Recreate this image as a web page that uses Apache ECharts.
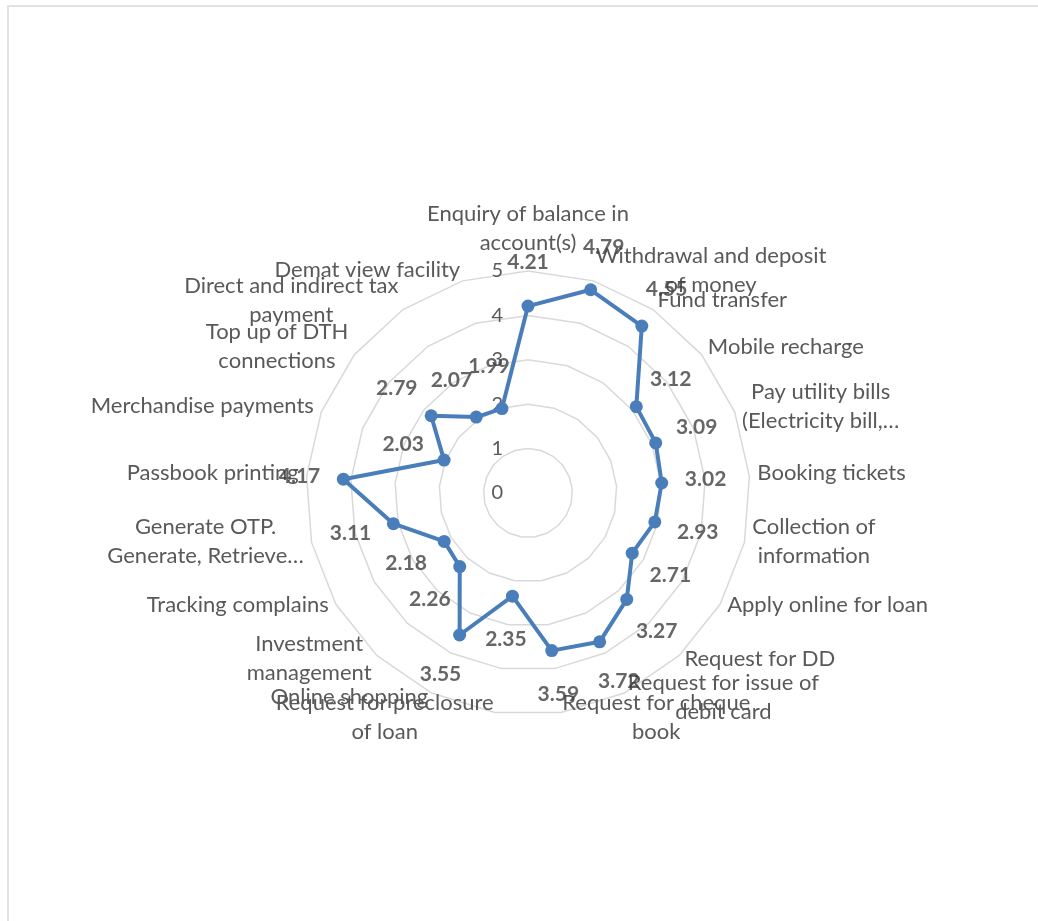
<!DOCTYPE html>
<html><head><meta charset="utf-8">
<script src="https://cdn.jsdelivr.net/npm/echarts@6/dist/echarts.min.js"></script>
<style>
html,body{margin:0;padding:0;background:#fff;overflow:hidden;width:1038px;height:921px;}
#frame{position:absolute;left:7px;top:5px;width:1100px;height:1000px;border:2px solid #e2e2e2;box-sizing:border-box;}
#chart{position:absolute;left:0;top:0;width:1038px;height:921px;}
</style></head>
<body><div id="frame"></div><div id="chart"></div>
<script>
// ---- data ----
const categories = [
  "Enquiry of balance in\naccount(s)",
  "Withdrawal and deposit\nof money",
  "Fund transfer",
  "Mobile recharge",
  "Pay utility bills\n(Electricity bill,…",
  "Booking tickets",
  "Collection of\ninformation",
  "Apply online for loan",
  "Request for DD",
  "Request for issue of\ndebit card",
  "Request for cheque\nbook",
  "Request for preclosure\nof loan",
  "Online shopping",
  "Investment\nmanagement",
  "Tracking complains",
  "Generate OTP.\nGenerate, Retrieve…",
  "Passbook printing",
  "Merchandise payments",
  "Top up of DTH\nconnections",
  "Direct and indirect tax\npayment",
  "Demat view facility"
];
const values = [4.21, 4.79, 4.55, 3.12, 3.09, 3.02, 2.93, 2.71, 3.27, 3.72, 3.59,
                2.35, 3.55, 2.26, 2.18, 3.11, 4.17, 2.03, 2.79, 2.07, 1.99];
const axisMin = 0, axisMax = 5, axisStep = 1;

// ---- layout/style ----
const CX = 528, CY = 493, R = 222;
const FONT = 'Lato';
const BLUE = '#4a7ebb';
const N = categories.length;

// ECharts radar runs counter-clockwise; reverse (keeping the first at top) to go clockwise like the source.
const order = [0];
for (let i = N - 1; i >= 1; i--) order.push(i);

const indicator = order.map(i => ({ name: categories[i], min: axisMin, max: axisMax }));
const radarValues = order.map(i => values[i]);

const LABEL_DIST = 44;
const labelData = values.map((v, i) => {
  const a = i * 2 * Math.PI / N;
  return { value: [v, i], label: { offset: [LABEL_DIST * Math.sin(a), -LABEL_DIST * Math.cos(a)] } };
});

const chart = echarts.init(document.getElementById('chart'), null, { renderer: 'canvas' });
chart.setOption({
  animation: false,
  backgroundColor: 'transparent',
  radar: {
    center: [CX, CY],
    radius: R,
    startAngle: 90,
    splitNumber: 5,
    shape: 'polygon',
    indicator: indicator,
    nameGap: 8,
    axisName: {
      color: '#595959', fontSize: 22, fontFamily: FONT, lineHeight: 29,
      padding: [0, 0, 6, 0],
      formatter: (name) => name.split('\n').map(l => '{c|' + l + '}').join('\n'),
      rich: { c: { align: 'center', color: '#595959', fontSize: 22, fontFamily: FONT, lineHeight: 29 } }
    },
    axisLine: { show: false },
    axisTick: { show: false },
    axisLabel: { show: false },
    splitArea: { show: false },
    splitLine: { lineStyle: { color: '#d9d9d9', width: 1.5 } }
  },
  polar: { center: [CX, CY], radius: R },
  angleAxis: { type: 'category', data: categories, startAngle: 90, clockwise: true, boundaryGap: false, show: false },
  radiusAxis: { type: 'value', min: axisMin, max: axisMax, show: false },
  grid: { left: CX, top: CY - R, height: R, width: 1 },
  xAxis: { type: 'value', show: false },
  yAxis: {
    type: 'value', min: axisMin, max: axisMax, interval: axisStep,
    axisLine: { show: false }, axisTick: { show: false }, splitLine: { show: false },
    axisLabel: { color: '#595959', fontSize: 20, fontFamily: FONT, margin: 25 }
  },
  series: [
    {
      type: 'radar',
      symbol: 'circle',
      symbolSize: 13,
      lineStyle: { color: BLUE, width: 4 },
      itemStyle: { color: BLUE },
      label: { show: false },
      data: [{ value: radarValues }],
      z: 2
    },
    {
      type: 'scatter',
      coordinateSystem: 'polar',
      symbolSize: 1,
      itemStyle: { color: 'rgba(0,0,0,0)' },
      label: {
        show: true, position: 'inside',
        formatter: (p) => p.value[0].toFixed(2),
        color: '#404040', fontSize: 21, fontWeight: 'bold', fontFamily: FONT
      },
      data: labelData,
      z: 5
    }
  ]
});
</script>
</body></html>
